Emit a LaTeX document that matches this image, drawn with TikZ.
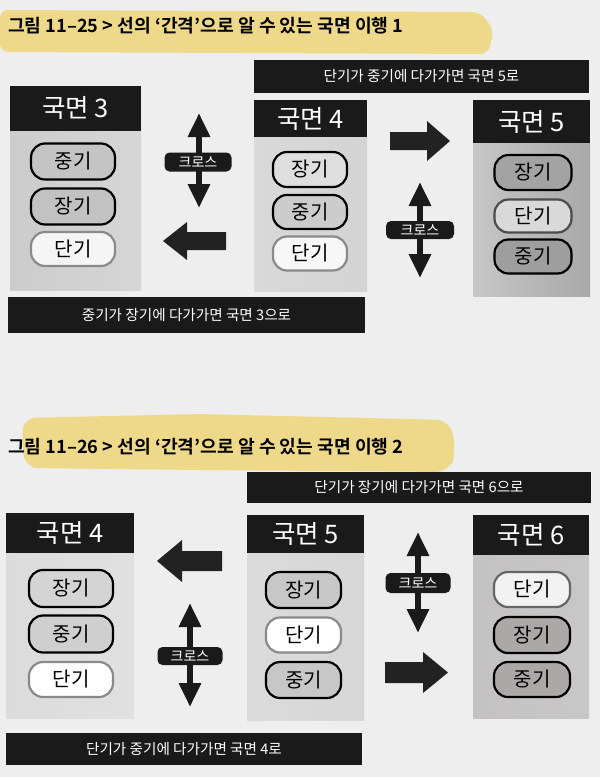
\documentclass[tikz,border=0pt]{standalone}
\usepackage{fontspec}
\setmainfont{Noto Sans CJK KR}[BoldFont={Noto Sans CJK KR Bold}]
\usetikzlibrary{arrows.meta}
\definecolor{bgcol}{HTML}{EEEEEE}
\definecolor{hdr}{HTML}{1A1A1A}
\definecolor{blk}{HTML}{222222}
\definecolor{hl}{HTML}{EFD370}
\definecolor{gline}{HTML}{8A8A8A}
\begin{document}
\begin{tikzpicture}[x=1pt,y=-1pt,
  header/.style={fill=hdr,text=white,inner sep=0pt,font=\fontsize{25.5}{25.5}\selectfont},
  pill/.style={draw=black,line width=2.2pt,rounded corners=14pt,inner sep=0pt,
    font=\fontsize{20}{20}\selectfont},
  pillg/.style={pill,draw=gline},
  banner/.style={fill=hdr,text=white,inner sep=0pt,font=\fontsize{14.6}{14.6}\selectfont},
  crosslab/.style={fill=hdr,text=white,rounded corners=5pt,inner sep=0pt,
    font=\fontsize{14}{14}\selectfont},
  crossarr/.style={draw=hdr,line width=6pt,
    {Triangle[width=21pt,length=24pt]}-{Triangle[width=21pt,length=24pt]}},
  title/.style={anchor=west,inner sep=0pt,font=\bfseries\fontsize{18.2}{18.2}\selectfont}
]
\useasboundingbox (0,0) rectangle (600,777);
\fill[bgcol] (0,0) rectangle (600,777);

% ---------- Figure 11-25 ----------
\fill[hl,opacity=0.8,rounded corners=8pt] (0,10) -- (480,12) -- (494,30) -- (488,54) -- (0,52) -- cycle;
\node[title] (t1) at (8,26) {그림 11–25 > 선의 ‘간격’으로 알 수 있는 국면 이행 1};

\node[banner,minimum width=335pt,minimum height=33pt] (ban1) at (421.5,76) {단기가 중기에 다가가면 국면 5로};

% panel 3
\shade[left color=black!20,right color=black!16] (10,131) rectangle (141,290);
\node[header,minimum width=131pt,minimum height=45pt] (h3) at (75.5,108) {국면 3};
\node[pill,fill=black!23,minimum width=84pt,minimum height=36pt] (p3a) at (73,161.5) {중기};
\node[pill,fill=black!24,minimum width=84pt,minimum height=36pt] (p3b) at (73,206.5) {장기};
\node[pillg,fill=black!4,minimum width=84pt,minimum height=34pt] (p3c) at (73,249) {단기};

% cross 1
\coordinate (c1t) at (199,113);
\coordinate (c1b) at (199,208);
\draw[crossarr] (c1t) -- (c1b);
\node[crosslab,minimum width=67pt,minimum height=19pt] (x1) at (198,162) {크로스};

% left arrow 1
\fill[blk] (226,232) -- (187,232) -- (187,222) -- (163,241) -- (187,260) -- (187,250) -- (226,250) -- cycle;

% panel 4
\shade[left color=black!15,right color=black!17] (254,137) rectangle (367,291);
\node[header,minimum width=113pt,minimum height=37pt] (h4) at (310.5,118.5) {국면 4};
\node[pill,fill=black!13,minimum width=74pt,minimum height=35pt] (p4a) at (310,169.5) {장기};
\node[pill,fill=black!20,minimum width=74pt,minimum height=34pt] (p4b) at (310,212) {중기};
\node[pillg,fill=black!3,minimum width=74pt,minimum height=34pt] (p4c) at (310,253.5) {단기};

% right arrow 1
\fill[blk] (390,132) -- (427,132) -- (427,121) -- (450,141) -- (427,161) -- (427,150) -- (390,150) -- cycle;

% cross 2
\coordinate (c2t) at (420,182);
\coordinate (c2b) at (420,278);
\draw[crossarr] (c2t) -- (c2b);
\node[crosslab,minimum width=68pt,minimum height=18pt] (x2) at (420,230) {크로스};

% panel 5
\shade[left color=black!22,right color=black!34] (473,143) rectangle (590,296);
\node[header,minimum width=117pt,minimum height=43pt] (h5) at (531.5,121.5) {국면 5};
\node[pill,fill=black!36,minimum width=77pt,minimum height=35pt] (p5a) at (533,172.5) {장기};
\node[pill,draw=black!70,fill=black!15,minimum width=77pt,minimum height=33pt] (p5b) at (533,216) {단기};
\node[pill,fill=black!38,minimum width=77pt,minimum height=34pt] (p5c) at (533,256.5) {중기};

\node[banner,minimum width=357pt,minimum height=36pt] (ban2) at (186.5,315) {중기가 장기에 다가가면 국면 3으로};

% ---------- Figure 11-26 ----------
\fill[hl,opacity=0.8,rounded corners=14pt] (22,418) -- (200,414) -- (450,420) -- (456,450) -- (450,472) -- (200,470) -- (24,468) -- cycle;
\node[title] (t2) at (8,447) {그림 11–26 > 선의 ‘간격’으로 알 수 있는 국면 이행 2};

\node[banner,minimum width=344pt,minimum height=31pt] (ban3) at (419,487.5) {단기가 장기에 다가가면 국면 6으로};

% panel 4b
\shade[left color=black!14,right color=black!12] (6,553) rectangle (134,718);
\node[header,minimum width=128pt,minimum height=40pt] (h4b) at (70,533) {국면 4};
\node[pill,fill=black!17,minimum width=84pt,minimum height=37pt] (q4a) at (71,588.5) {장기};
\node[pill,fill=black!19,minimum width=84pt,minimum height=37pt] (q4b) at (71,634) {중기};
\node[pillg,fill=white,minimum width=84pt,minimum height=35pt] (q4c) at (71,679.5) {단기};

% left arrow 2
\fill[blk] (222,551) -- (182,551) -- (182,540) -- (157,561) -- (182,582) -- (182,571) -- (222,571) -- cycle;

% cross 3
\coordinate (c3t) at (190,603);
\coordinate (c3b) at (190,707);
\draw[crossarr] (c3t) -- (c3b);
\node[crosslab,minimum width=65pt,minimum height=18pt] (x3) at (190,656) {크로스};

% panel 5b
\shade[left color=black!14,right color=black!16] (247,553) rectangle (364,720);
\node[header,minimum width=117pt,minimum height=38pt] (h5b) at (305.5,534) {국면 5};
\node[pill,fill=black!22,minimum width=75pt,minimum height=36pt] (q5a) at (303.5,590) {장기};
\node[pillg,fill=white,minimum width=75pt,minimum height=35pt] (q5b) at (303.5,635) {단기};
\node[pill,fill=black!22,minimum width=75pt,minimum height=36pt] (q5c) at (303.5,680) {중기};

% cross 4
\coordinate (c4t) at (418,532);
\coordinate (c4b) at (418,633);
\draw[crossarr] (c4t) -- (c4b);
\node[crosslab,minimum width=65pt,minimum height=20pt] (x4) at (418,583) {크로스};

% right arrow 2
\fill[blk] (385,662) -- (423,662) -- (423,652) -- (448,672.5) -- (423,693) -- (423,683) -- (385,683) -- cycle;

% panel 6
\shade[left color=red!3!black!24,right color=red!3!black!22] (473,555) rectangle (589,718);
\node[header,minimum width=116pt,minimum height=40pt] (h6) at (531,535) {국면 6};
\node[pill,draw=black!60,fill=black!5,minimum width=76pt,minimum height=35pt] (q6a) at (532,589.5) {단기};
\node[pill,fill=red!4!black!34,minimum width=76pt,minimum height=36pt] (q6b) at (532,635) {장기};
\node[pill,fill=red!4!black!34,minimum width=76pt,minimum height=35pt] (q6c) at (532,679.5) {중기};

\node[banner,minimum width=356pt,minimum height=32pt] (ban4) at (184,749) {단기가 중기에 다가가면 국면 4로};
\end{tikzpicture}
\end{document}
